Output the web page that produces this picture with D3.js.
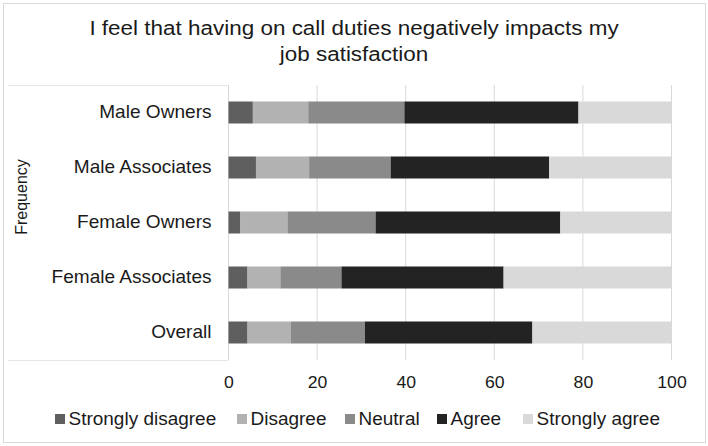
<!DOCTYPE html>
<html><head><meta charset="utf-8">
<script src="https://cdn.jsdelivr.net/npm/d3@7"></script>
<style>body{margin:0;background:#fff;}svg{display:block;font-family:"Liberation Sans",Arial,sans-serif;}</style>
</head><body><svg id="c" width="708" height="446"></svg>
<script>
const categories = ["Male Owners","Male Associates","Female Owners","Female Associates","Overall"];
const seriesNames = ["Strongly disagree","Disagree","Neutral","Agree","Strongly agree"];
const stronglyDisagree = [5.5, 6.2, 2.6, 4.3, 4.3];
const disagree        = [12.5, 12.0, 10.7, 7.4, 9.7];
const neutral         = [21.7, 18.4, 19.9, 13.8, 16.8];
const agree           = [39.3, 35.8, 41.7, 36.6, 37.8];
const stronglyAgree   = [21.0, 27.6, 25.1, 37.9, 31.4];
const xTicks = [0,20,40,60,80,100];
const colors = ["#5f5f5f","#b2b2b2","#8a8a8a","#232323","#d9d9d9"];

const seriesValues = [stronglyDisagree, disagree, neutral, agree, stronglyAgree];
const rows = categories.map((c,i)=>{const o={cat:c}; seriesNames.forEach((s,j)=>o[s]=seriesValues[j][i]); return o;});
const stack = d3.stack().keys(seriesNames)(rows);

const svg = d3.select("#c");
const L=228.5, R=671.5, T=85, B=360;
const SX = 1.07;
svg.append("rect").attr("x",3.5).attr("y",3.5).attr("width",702).attr("height",439).attr("fill","#fff").attr("stroke","#d9d9d9");

const x = d3.scaleLinear().domain([0,100]).range([L,R]);
const y = d3.scaleBand().domain(categories).range([T,B]).paddingInner(0.6).paddingOuter(0.3);

svg.append("line").attr("x1",8).attr("x2",L).attr("y1",T+0.5).attr("y2",T+0.5).attr("stroke","#e6e6e6");
svg.append("line").attr("x1",8).attr("x2",L).attr("y1",B+0.5).attr("y2",B+0.5).attr("stroke","#e6e6e6");

svg.append("g").selectAll("line").data(xTicks).join("line")
  .attr("x1",d=>x(d)).attr("x2",d=>x(d)).attr("y1",T).attr("y2",B)
  .attr("stroke","#d9d9d9").attr("stroke-width",1);

svg.append("g").selectAll("g").data(stack).join("g").attr("fill",(d,i)=>colors[i])
  .selectAll("rect").data(d=>d).join("rect")
  .attr("x",d=>x(d[0])).attr("width",d=>x(d[1])-x(d[0]))
  .attr("y",d=>y(d.data.cat)).attr("height",y.bandwidth());

const xa = svg.append("g").attr("transform",`translate(0,${B})`).call(d3.axisBottom(x).tickValues(xTicks).tickSize(0).tickPadding(16));
xa.select(".domain").remove();
xa.selectAll("text").attr("font-size",16.5).attr("fill","#1a1a1a").attr("font-family","Liberation Sans, Arial, sans-serif")
  .attr("transform",`scale(${SX},1)`);

const ya = svg.append("g").attr("transform",`translate(${L},0)`).call(d3.axisLeft(y).tickSize(0).tickPadding(16));
ya.select(".domain").remove();
ya.selectAll("text").attr("font-size",18).attr("fill","#1a1a1a").attr("font-family","Liberation Sans, Arial, sans-serif")
  .attr("transform",`scale(1.06,1)`);

svg.append("text").attr("transform","translate(27,197) rotate(-90)").attr("text-anchor","middle")
  .attr("font-size",16).attr("fill","#1a1a1a").text("Frequency");

const titleLines = ["I feel that having on call duties negatively impacts my","job satisfaction"];
svg.append("g").selectAll("text").data(titleLines).join("text")
  .attr("transform",(d,i)=>`translate(354,${35+i*26}) scale(${SX},1)`)
  .attr("text-anchor","middle").attr("font-size",21).attr("fill","#1a1a1a").text(d=>d);

const legendX = [55, 237, 345, 437, 523];
const lg = svg.append("g").selectAll("g").data(seriesNames).join("g")
  .attr("transform",(d,i)=>`translate(${legendX[i]},0)`);
lg.append("rect").attr("x",0).attr("y",414).attr("width",10).attr("height",10).attr("fill",(d,i)=>colors[i]);
lg.append("text").attr("transform",`translate(13.5,425) scale(1.085,1)`).attr("font-size",17.5).attr("fill","#1a1a1a").text(d=>d);
</script></body></html>
